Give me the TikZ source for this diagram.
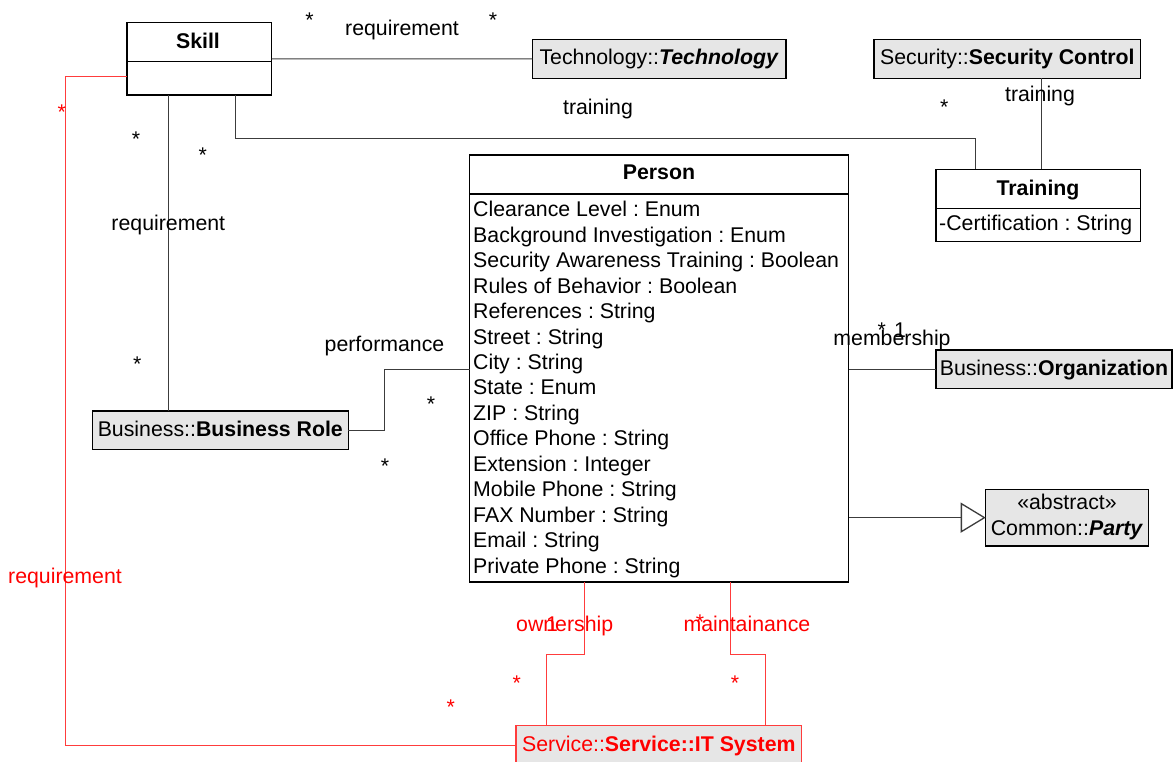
\documentclass[tikz,border=0pt]{standalone}
\usepackage{fontspec}
\setmainfont{Liberation Sans}
\usetikzlibrary{arrows.meta}
\definecolor{boxgray}{RGB}{230,230,230}
\definecolor{linegray}{RGB}{60,60,60}
\definecolor{lred}{RGB}{255,60,60}
\definecolor{tred}{RGB}{255,0,0}
\newcommand{\dfont}{\fontsize{21.3}{25}\selectfont\frenchspacing}
\newcommand{\bolditalic}[1]{\textbf{\textit{#1}}}
\tikzset{
  cls/.style={draw=black, line width=1.5pt, fill=white, inner sep=0pt, outer sep=0pt, anchor=north west},
  refbox/.style={draw=black, line width=1.3pt, fill=boxgray, inner sep=0pt, outer sep=0pt,
    anchor=north west, text height=15pt, text depth=3pt},
  conn/.style={draw=linegray, line width=1pt},
  rconn/.style={draw=lred, line width=1pt},
  lbl/.style={anchor=base, inner sep=0pt},
  attr/.style={anchor=base west, inner sep=0pt},
  rlbl/.style={lbl, text=tred},
  header/.style={lbl, font=\dfont\bfseries},
}
\begin{document}
\begin{tikzpicture}[x=1pt, y=-1pt, font=\dfont]
\useasboundingbox (0,0) rectangle (1174,762);
\clip (0,0) rectangle (1174,762);
\fill[white] (0,0) rectangle (1174,762);

% ---- class boxes ----
\node[cls, minimum width=144.7pt, minimum height=72.3pt] (skill) at (127,22.7) {};
\draw[line width=1.5pt] (127,61.3) -- (271.7,61.3);
\node[header] (skillname) at (198,48.3) {Skill};

\node[cls, minimum width=204.7pt, minimum height=72.4pt] (training) at (936,169.3) {};
\draw[line width=1.5pt] (936,208.3) -- (1140.7,208.3);
\node[header] (trainingname) at (1038,195.7) {Training};
\node[attr] (cert) at (939,230) {-Certification : String};

\node[cls, minimum width=379pt, minimum height=427pt] (person) at (469.5,155) {};
\draw[line width=1.5pt] (469.5,194) -- (848.5,194);
\node[header] (personname) at (659,179) {Person};
\foreach \t [count=\i from 0] in {
  Clearance Level : Enum,
  Background Investigation : Enum,
  Security Awareness Training : Boolean,
  Rules of Behavior : Boolean,
  References : String,
  Street : String,
  City : String,
  State : Enum,
  ZIP : String,
  Office Phone : String,
  Extension : Integer,
  Mobile Phone : String,
  FAX Number : String,
  Email : String,
  Private Phone : String}
  \node[attr] (attr\i) at (473,216.8+25.45*\i) {\t};

% ---- referenced classes ----
\node[refbox, minimum width=253.7pt, minimum height=39.4pt] (tech) at (532.3,39.3)
  {Technology::\bolditalic{Technology}};
\node[refbox, minimum width=266.7pt, minimum height=39pt] (sec) at (874,39.3)
  {Security::\textbf{Security Control}};
\node[refbox, minimum width=236pt, minimum height=38.3pt] (org) at (936,350)
  {Business::\textbf{Organization}};
\node[refbox, minimum width=256pt, minimum height=38.3pt] (brole) at (92.3,411)
  {Business::\textbf{Business Role}};
\node[refbox, minimum width=162.6pt, minimum height=56.7pt] (party) at (985.7,489.3) {};
\node[lbl] (partyster) at (1067,509.3) {«abstract»};
\node[lbl] (partyname) at (1067,535) {Common::\bolditalic{Party}};
\node[refbox, draw=lred, text=tred, minimum width=285.7pt, minimum height=40.3pt] (itsys) at (516,725.7)
  {Service::\textbf{Service::IT System}};

% ---- associations ----
\draw[conn] (skill.east) -- (tech.west);
\draw[conn] (skill.south -| 235,0) |- (975.7,138.3) -- (training.north -| 975.7,0);
\draw[conn] (sec.south -| 1041,0) -- (training.north -| 1041,0);
\draw[conn] (skill.south -| 168,0) -- (brole.north -| 168,0);
\draw[conn] (brole.east) -| (384.3,369) -- (person.west |- 0,369);
\draw[conn] (person.east |- org.west) -- (org.west);
\draw[conn, -{Triangle[open, length=25pt, width=30pt, line width=1.3pt]}]
  (person.east |- party.west) -- (party.west);
\draw[rconn] (person.south -| 584,0) |- (546.7,654.7) -- (itsys.north -| 546.7,0);
\draw[rconn] (person.south -| 730,0) |- (765,654.7) -- (itsys.north -| 765,0);
\draw[rconn] (skill.west |- 0,76.7) -| (65.7,745.7) -- (itsys.west |- 0,745.7);

% ---- role names and multiplicities ----
\node[lbl] (m1) at (309.5,27.5) {*};
\node[lbl] (m2) at (493,27.5) {*};
\node[lbl] (r1) at (402,36) {requirement};
\node[lbl] (t1) at (598,115) {training};
\node[lbl] (t2) at (1040,101.7) {training};
\node[lbl] (m3) at (944.3,114.3) {*};
\node[lbl] (m4) at (136,147) {*};
\node[lbl] (m5) at (202.7,162.7) {*};
\node[lbl] (r2) at (168.3,230) {requirement};
\node[lbl] (m6) at (137.3,371) {*};
\node[lbl] (p1) at (384.5,351.7) {performance};
\node[lbl] (m7) at (431,411) {*};
\node[lbl] (m8) at (385,473.3) {*};
\node[lbl] (mem) at (892,345) {membership};
\node[lbl] (m9) at (881.7,337) {*};
\node[lbl] (m10) at (900,337) {1};

\node[rlbl] (rm1) at (61.7,119.3) {*};
\node[rlbl] (r3) at (65,583.3) {requirement};
\node[rlbl] (own) at (564.7,631.7) {ownership};
\node[rlbl] (rm2) at (552,631.7) {1};
\node[rlbl] (mnt) at (747,631.7) {maintainance};
\node[rlbl] (rm3) at (700,629.3) {*};
\node[rlbl] (rm4) at (516.7,690.3) {*};
\node[rlbl] (rm5) at (735,690.3) {*};
\node[rlbl] (rm6) at (450.7,714.3) {*};
\end{tikzpicture}
\end{document}
